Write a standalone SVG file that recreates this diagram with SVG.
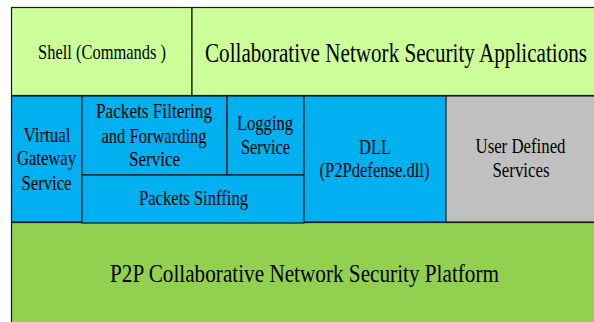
<svg xmlns="http://www.w3.org/2000/svg" width="594" height="322" viewBox="0 0 594 322">
<rect width="594" height="322" fill="#fff"/>
<g id="nodes" stroke-width="0">
<g id="platform">
<rect fill="#92d050" stroke="#1a1a1a" stroke-width="1.2" x="11.5" y="222.5" width="590" height="110"/>
<text font-family="Liberation Serif" font-size="25" x="110" y="282" textLength="389" lengthAdjust="spacingAndGlyphs">P2P Collaborative Network Security Platform</text>
</g>
<g id="shell">
<rect fill="#ccff99" stroke="#1a1a1a" stroke-width="1.2" x="11.5" y="7.5" width="180.5" height="88"/>
<text font-family="Liberation Serif" font-size="21" x="38" y="59" textLength="128" lengthAdjust="spacingAndGlyphs">Shell (Commands )</text>
</g>
<g id="apps">
<rect fill="#ccff99" stroke="#1a1a1a" stroke-width="1.2" x="192" y="7.5" width="410" height="88"/>
<text font-family="Liberation Serif" font-size="28" x="205" y="61.5" textLength="382" lengthAdjust="spacingAndGlyphs">Collaborative Network Security Applications</text>
</g>
<g id="gateway">
<rect fill="#00b0f0" stroke="#1a1a1a" stroke-width="1.2" x="11.5" y="96" width="70.5" height="126"/>
<text font-family="Liberation Serif" font-size="21" x="23.5" y="141.5" textLength="47" lengthAdjust="spacingAndGlyphs">Virtual</text>
<text font-family="Liberation Serif" font-size="21" x="17" y="165" textLength="59" lengthAdjust="spacingAndGlyphs">Gateway</text>
<text font-family="Liberation Serif" font-size="21" x="21.5" y="189.5" textLength="50" lengthAdjust="spacingAndGlyphs">Service</text>
</g>
<g id="filtering">
<rect fill="#00b0f0" stroke="#1a1a1a" stroke-width="1.2" x="82" y="96" width="145" height="79"/>
<text font-family="Liberation Serif" font-size="21" x="96" y="118" textLength="116" lengthAdjust="spacingAndGlyphs">Packets  Filtering</text>
<text font-family="Liberation Serif" font-size="21" x="101.5" y="143" textLength="105" lengthAdjust="spacingAndGlyphs">and Forwarding</text>
<text font-family="Liberation Serif" font-size="21" x="129" y="166" textLength="51" lengthAdjust="spacingAndGlyphs">Service</text>
</g>
<g id="logging">
<rect fill="#00b0f0" stroke="#1a1a1a" stroke-width="1.2" x="227" y="96" width="77" height="79"/>
<text font-family="Liberation Serif" font-size="21" x="237" y="130" textLength="56" lengthAdjust="spacingAndGlyphs">Logging</text>
<text font-family="Liberation Serif" font-size="21" x="241" y="154" textLength="49" lengthAdjust="spacingAndGlyphs">Service</text>
</g>
<g id="sniffing">
<rect fill="#00b0f0" stroke="#1a1a1a" stroke-width="1.2" x="82" y="175" width="222" height="48"/>
<text font-family="Liberation Serif" font-size="21" x="139" y="205" textLength="109" lengthAdjust="spacingAndGlyphs">Packets Sinffing</text>
</g>
<g id="dll">
<rect fill="#00b0f0" stroke="#1a1a1a" stroke-width="1.2" x="304" y="96" width="142" height="126"/>
<text font-family="Liberation Serif" font-size="21" x="359" y="154" textLength="32" lengthAdjust="spacingAndGlyphs">DLL</text>
<text font-family="Liberation Serif" font-size="21" x="319.5" y="177" textLength="110" lengthAdjust="spacingAndGlyphs">(P2Pdefense.dll)</text>
</g>
<g id="userdefined">
<rect fill="#c0c0c0" stroke="#1a1a1a" stroke-width="1.2" x="446" y="96" width="156" height="126"/>
<text font-family="Liberation Serif" font-size="21" x="475.5" y="153" textLength="90" lengthAdjust="spacingAndGlyphs">User Defined</text>
<text font-family="Liberation Serif" font-size="21" x="492.5" y="177" textLength="57" lengthAdjust="spacingAndGlyphs">Services</text>
</g>
</g>
<g id="connectors"/>
</svg>
